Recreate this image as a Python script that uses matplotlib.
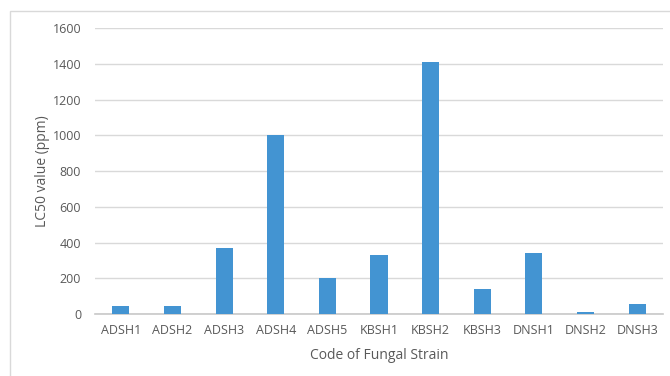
import matplotlib.pyplot as plt
from matplotlib.patches import Rectangle

strains = ["ADSH1", "ADSH2", "ADSH3", "ADSH4", "ADSH5", "KBSH1",
           "KBSH2", "KBSH3", "DNSH1", "DNSH2", "DNSH3"]
lc50 = [45, 47, 370, 1000, 200, 333, 1413, 142, 339, 10, 58]
yticks = [0, 200, 400, 600, 800, 1000, 1200, 1400, 1600]

plt.rcParams['font.family'] = ['Open Sans', 'DejaVu Sans']
text_col = '#595959'

fig = plt.figure(figsize=(6.7, 3.76), dpi=100)
ax = fig.add_axes([95 / 670, 1 - 314 / 376, 568 / 670, (314 - 28.3) / 376])

# chart border
fig.patches.append(Rectangle((10 / 670, -0.1), 1.0, 1 - 11 / 376 + 0.1,
                             transform=fig.transFigure, fill=False,
                             edgecolor='#d9d9d9', linewidth=1))

x = range(len(strains))
ax.bar(x, lc50, width=0.33, color='#4394d2', zorder=3)

ax.set_xlim(-0.5, len(strains) - 0.5)
ax.set_ylim(0, 1600)
ax.set_yticks(yticks)
ax.set_xticks(list(x))
ax.set_xticklabels(strains)
ax.yaxis.grid(True, color='#d9d9d9', linewidth=1, zorder=0)
ax.set_axisbelow(True)
for s in ['top', 'right', 'left']:
    ax.spines[s].set_visible(False)
ax.spines['bottom'].set_color('#c8c8c8')
ax.spines['bottom'].set_linewidth(1.2)
ax.tick_params(length=0, labelsize=9, colors=text_col, pad=7)
ax.tick_params(axis='y', pad=10)

ax.set_xlabel('Code of Fungal Strain', fontsize=10, color=text_col, labelpad=8)
ax.set_ylabel('LC50 value (ppm)', fontsize=10, color=text_col)
ax.yaxis.set_label_coords(-0.08, 0.5)

fig.savefig('out.png', dpi=100)
